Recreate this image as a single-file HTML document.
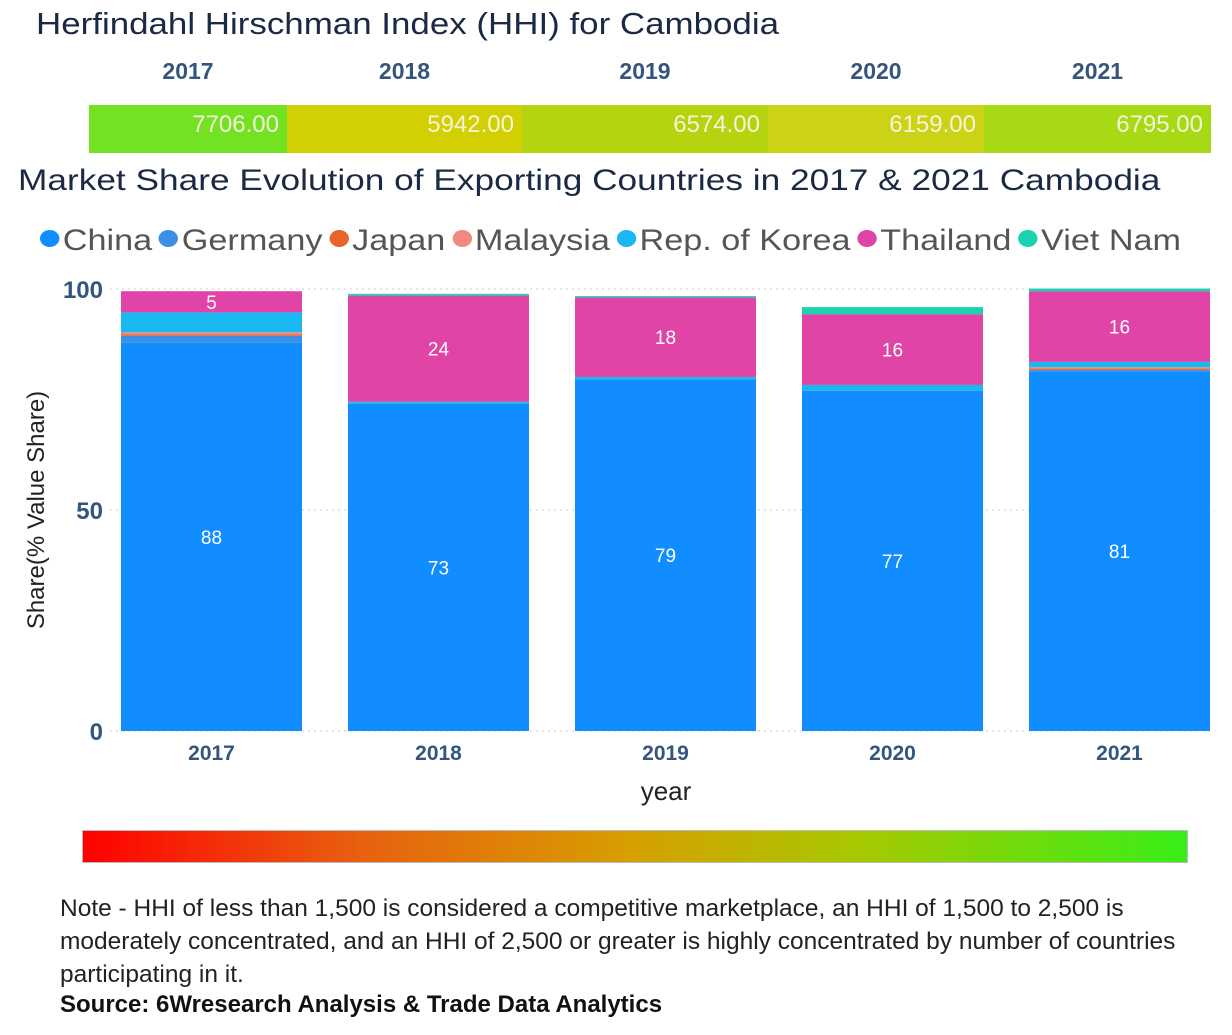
<!DOCTYPE html>
<html><head><meta charset="utf-8">
<style>
body{margin:0;width:1232px;height:1035px;background:#fff;font-family:"Liberation Sans","DejaVu Sans",sans-serif;overflow:hidden;position:relative}
.t{position:absolute;white-space:nowrap}
</style></head><body>
<div class="t" style="left:36px;top:6px;font-size:31px;color:#1b2a44;transform:scaleX(1.126);transform-origin:0 0">Herfindahl Hirschman Index (HHI) for Cambodia</div>
<div id="hhi"></div>
<div class="t" style="left:18px;top:164px;font-size:30px;color:#1b2a44;transform:scaleX(1.175);transform-origin:0 0">Market Share Evolution of Exporting Countries in 2017 &amp; 2021 Cambodia</div>
<div id="legend" style="position:absolute;left:40px;top:224px;font-size:30px;color:#555;white-space:nowrap;transform:scaleX(1.14);transform-origin:0 0"></div>
<svg id="chart" width="1232" height="820" style="position:absolute;left:0;top:0"></svg>
<div style="position:absolute;left:82px;top:830px;width:1104px;height:31px;border:1px solid #bbb;background:linear-gradient(to right,#ff0000,#e86010 25%,#d6a000 50%,#a8c800 70%,#38ee18)"></div>
<div class="t" style="left:60px;top:892px;font-size:24.5px;line-height:33px;color:#222;white-space:normal;width:1150px">Note - HHI of less than 1,500 is considered a competitive marketplace, an HHI of 1,500 to 2,500 is moderately concentrated, and an HHI of 2,500 or greater is highly concentrated by number of countries participating in it.</div>
<div class="t" style="left:60px;top:991px;font-size:24px;font-weight:bold;color:#111">Source: 6Wresearch Analysis &amp; Trade Data Analytics</div>
<script>
const hhiYears=["2017","2018","2019","2020","2021"];
const hhiValues=[7706,5942,6574,6159,6795];
const hhiColors=["#72e222","#d2cf02","#b5d30e","#ccd316","#a8d915"];
const hhiEdges=[89,287,522,768,984,1211];
const hhi=document.getElementById('hhi');
hhiYears.forEach((y,i)=>{
  const h=document.createElement('div');
  
  
  h.className='t';h.textContent=y;
  h.style.cssText=`left:${hhiEdges[i]}px;width:${hhiEdges[i+1]-hhiEdges[i]}px;top:58px;text-align:center;font-size:23px;font-weight:bold;color:#34567e`;
  hhi.appendChild(h);
  const c=document.createElement('div');
  
  
  c.className='t';c.textContent=hhiValues[i].toFixed(2);
  c.style.cssText=`left:${hhiEdges[i]}px;width:${hhiEdges[i+1]-hhiEdges[i]-8}px;padding-right:8px;top:105px;height:48px;line-height:40px;text-align:right;font-size:24px;color:#f4f4d8;background:${hhiColors[i]}`;
  hhi.appendChild(c);
});

const years=["2017","2018","2019","2020","2021"];
const countries=["China","Germany","Japan","Malaysia","Rep. of Korea","Thailand","Viet Nam"];
const colors=["#118dff","#3d8fe6","#e8642c","#f08a80","#1ab8f0","#e044a7","#1ad1b0"];
const china=[87.8,74,79.6,77,81.4];
const germany=[1.6,0,0,0,0.3];
const japan=[0.3,0,0,0,0.3];
const malaysia=[0.5,0,0,0,0.3];
const korea=[4.5,0.5,0.5,1.3,1.2];
const thailand=[4.8,24,18,16,16];
const vietnam=[0,0.4,0.3,1.6,0.6];
const labels=[["88",null,null,null,null,"5",null],["73",null,null,null,null,"24",null],["79",null,null,null,null,"18",null],["77",null,null,null,null,"16",null],["81",null,null,null,null,"16",null]];
const yTicks=[0,50,100];
const series=[china,germany,japan,malaysia,korea,thailand,vietnam];

const lg=document.getElementById('legend');
countries.forEach((c,i)=>{
  const s=document.createElement('span');
  
  
  s.style.marginRight='6px';
  s.innerHTML=`<span style="display:inline-block;width:17px;height:17px;border-radius:50%;background:${colors[i]};margin-right:3px;vertical-align:3px"></span>${c}`;
  lg.appendChild(s);
});

const NS='http://www.w3.org/2000/svg';
const svg=document.getElementById('chart');
const y0=731,y100=289,x0=121,step=227,bw=181;
const yS=v=>y0-(v/100)*(y0-y100);
const xS=i=>x0+i*step;
function el(t,a,txt){const e=document.createElementNS(NS,t);for(const k in a)e.setAttribute(k,a[k]);if(txt!=null)e.textContent=txt;svg.appendChild(e);return e;}
yTicks.forEach(t=>{
  const g=el('line',{x1:110,x2:1215,y1:yS(t),y2:yS(t),stroke:'#ccc','stroke-dasharray':'2,4'});
  
  
  const l=el('text',{x:103,y:yS(t)+9,'text-anchor':'end','font-size':24,'font-weight':'bold',fill:'#34567e'},t);
  
  
});
years.forEach((yr,i)=>{
  let acc=0;
  series.forEach((s,k)=>{
    const v=s[i];
    if(v>0){
      const r=el('rect',{x:xS(i),y:yS(acc+v),width:bw,height:yS(acc)-yS(acc+v),fill:colors[k]});
      
      
      if(labels[i][k]){
        const t=el('text',{x:xS(i)+bw/2,y:yS(acc+v/2)+7,'text-anchor':'middle','font-size':19,fill:'#fff'},labels[i][k]);
        
        
      }
    }
    acc+=v;
  });
  const x=el('text',{x:xS(i)+bw/2,y:760,'text-anchor':'middle','font-size':21,'font-weight':'bold',fill:'#34567e'},yr);
  
  
});
const xt=el('text',{x:666,y:800,'text-anchor':'middle','font-size':26,fill:'#222'},'year');


const yt=el('text',{x:44,y:510,'text-anchor':'middle','font-size':24,fill:'#222',transform:'rotate(-90 44 510)'},'Share(% Value Share)');


</script>
</body></html>
